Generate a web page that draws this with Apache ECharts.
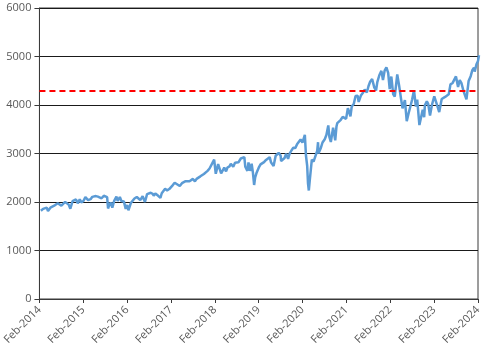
<!DOCTYPE html>
<html>
<head>
<meta charset="utf-8">
<script src="https://cdn.jsdelivr.net/npm/echarts@6/dist/echarts.min.js"></script>
<style>
html, body { margin: 0; padding: 0; background: #fff; }
#main { width: 485px; height: 351px; }
</style>
</head>
<body>
<div id="main"></div>
<script>
// index close, roughly twice a month plus the big swings
var dates = [
  '2014-02-12','2014-03-01','2014-03-14','2014-04-01','2014-04-11','2014-05-01','2014-05-15','2014-06-02','2014-06-13','2014-07-01','2014-07-15','2014-08-01','2014-08-07','2014-08-15','2014-09-02','2014-09-18','2014-10-01','2014-10-15','2014-11-03','2014-11-14','2014-12-01','2014-12-16','2015-01-02','2015-01-15',
  '2015-02-02','2015-02-17','2015-03-02','2015-03-11','2015-04-01','2015-04-15','2015-05-01','2015-05-15','2015-06-01','2015-06-15','2015-07-01','2015-07-08','2015-07-20','2015-08-03','2015-08-17','2015-08-25','2015-09-01','2015-09-17','2015-09-29','2015-10-15','2015-11-03','2015-11-13','2015-12-01','2015-12-14','2016-01-04','2016-01-20',
  '2016-02-01','2016-02-11','2016-03-01','2016-03-15','2016-04-01','2016-04-20','2016-05-02','2016-05-19','2016-06-08','2016-06-27','2016-07-15','2016-08-15','2016-09-01','2016-09-09','2016-09-22','2016-10-14','2016-11-04','2016-11-15','2016-12-13','2016-12-30','2017-01-17',
  '2017-02-01','2017-02-15','2017-03-01','2017-03-15','2017-04-13','2017-05-01','2017-05-17','2017-06-01','2017-06-15','2017-07-03','2017-07-17','2017-08-01','2017-08-18','2017-09-01','2017-09-15','2017-10-02','2017-10-16','2017-11-01','2017-11-15','2017-12-01','2017-12-18','2018-01-02','2018-01-26',
  '2018-02-08','2018-02-26','2018-03-12','2018-03-23','2018-04-02','2018-04-18','2018-05-03','2018-05-15','2018-06-01','2018-06-12','2018-07-02','2018-07-17','2018-08-01','2018-08-15','2018-09-04','2018-09-20','2018-10-03','2018-10-11','2018-10-29','2018-11-07','2018-11-20','2018-12-03','2018-12-14','2018-12-24','2019-01-02','2019-01-15',
  '2019-02-01','2019-02-15','2019-03-01','2019-03-15','2019-04-01','2019-04-15','2019-05-01','2019-05-13','2019-06-03','2019-06-20','2019-07-01','2019-07-15','2019-08-01','2019-08-05','2019-08-15','2019-09-03','2019-09-16','2019-10-02','2019-10-15','2019-11-01','2019-11-15','2019-12-02','2019-12-16','2019-12-31','2020-01-15',
  '2020-01-31','2020-02-19','2020-02-28','2020-03-09','2020-03-16','2020-03-23','2020-04-01','2020-04-17','2020-05-01','2020-05-13','2020-06-01','2020-06-08','2020-06-11','2020-07-01','2020-07-15','2020-08-03','2020-08-17','2020-09-02','2020-09-11','2020-09-23','2020-10-12','2020-10-30','2020-11-09','2020-11-16','2020-12-01','2020-12-15','2020-12-31','2021-01-15',
  '2021-01-29','2021-02-12','2021-03-04','2021-03-15','2021-04-01','2021-04-16','2021-05-03','2021-05-12','2021-06-01','2021-06-15','2021-07-01','2021-07-19','2021-08-02','2021-08-16','2021-09-02','2021-09-20','2021-10-04','2021-10-15','2021-11-01','2021-11-18','2021-12-01','2021-12-15','2021-12-30','2022-01-03','2022-01-14','2022-01-27',
  '2022-02-09','2022-02-23','2022-03-08','2022-03-29','2022-04-14','2022-04-29','2022-05-12','2022-05-20','2022-06-01','2022-06-16','2022-07-01','2022-07-15','2022-08-01','2022-08-16','2022-09-01','2022-09-12','2022-09-30','2022-10-12','2022-10-28','2022-11-09','2022-11-15','2022-12-01','2022-12-13','2022-12-28','2023-01-13',
  '2023-02-02','2023-02-15','2023-03-01','2023-03-13','2023-04-03','2023-04-18','2023-05-01','2023-05-15','2023-06-01','2023-06-15','2023-07-03','2023-07-31','2023-08-18','2023-09-01','2023-09-15','2023-10-02','2023-10-27','2023-11-14','2023-12-01','2023-12-15','2023-12-29','2024-01-04','2024-01-19','2024-02-01','2024-02-09'
];
var closes = [
  1819,1859,1841,1885,1815,1883,1870,1924,1936,1973,1973,1925,1910,1955,2002,2011,1946,1862,2017,2039,2053,1972,2058,1992,
  2020,2100,2117,2040,2059,2106,2108,2122,2111,2084,2077,2046,2128,2098,2102,1867,1914,1990,1884,2023,2109,2023,2102,2021,2012,1859,
  1939,1829,1978,2015,2072,2102,2081,2040,2119,2000,2162,2190,2170,2127,2177,2133,2085,2180,2271,2239,2267,
  2279,2349,2396,2385,2329,2388,2357,2430,2433,2429,2460,2476,2425,2477,2500,2529,2557,2579,2565,2642,2690,2695,2873,
  2581,2780,2784,2588,2582,2708,2630,2711,2735,2787,2726,2809,2813,2818,2897,2930,2925,2728,2641,2814,2642,2790,2600,2351,2510,2610,
  2707,2775,2804,2822,2867,2905,2924,2812,2744,2954,2964,3014,2953,2845,2848,2906,2998,2888,2995,3067,3120,3114,3191,3231,3289,
  3226,3386,2954,2747,2386,2237,2471,2875,2831,2820,3056,3232,3002,3115,3227,3295,3382,3580,3341,3237,3534,3270,3550,3627,3662,3695,3756,3768,
  3714,3934,3768,3969,4020,4185,4192,4063,4202,4246,4320,4258,4387,4479,4537,4358,4300,4471,4613,4704,4513,4709,4778,4797,4663,4327,
  4587,4226,4171,4632,4392,4132,3930,3901,4101,3667,3825,3863,4118,4305,3967,4110,3586,3577,3901,3749,3992,4077,4019,3783,3999,
  4180,4148,3951,3855,4124,4154,4167,4136,4221,4426,4455,4589,4370,4515,4450,4288,4117,4495,4595,4719,4770,4688,4840,4906,5026
];
var refLevel = 4290;
var yTicks = [0, 1000, 2000, 3000, 4000, 5000, 6000];

// months since Feb 2014
function monthPos(s) {
  var p = s.split('-');
  var y = +p[0], m = +p[1], d = +p[2];
  var dim = new Date(y, m, 0).getDate();
  return (y - 2014) * 12 + (m - 2) + (d - 1) / dim;
}

var chart = echarts.init(document.getElementById('main'));
var pts = dates.map(function (d, i) { return [monthPos(d), closes[i]]; });

var axisText = { color: '#595959', fontSize: 11, fontFamily: 'Open Sans' };

var option = {
  backgroundColor: '#ffffff',
  animation: false,
  grid: {
    left: 39, right: 7, top: 8, bottom: 52,
    show: true, borderColor: '#3a3a3a', borderWidth: 1
  },
  xAxis: {
    type: 'value',
    min: 0, max: 120, interval: 12,
    axisLine: { lineStyle: { color: '#3a3a3a' } },
    axisTick: { show: true, length: 4, lineStyle: { color: '#3a3a3a' } },
    splitLine: { show: false },
    axisLabel: Object.assign({
      rotate: 45, margin: 9,
      formatter: function (v) { return 'Feb-' + (2014 + v / 12); }
    }, axisText)
  },
  yAxis: {
    type: 'value',
    min: yTicks[0], max: yTicks[yTicks.length - 1], interval: 1000,
    axisLine: { show: true, lineStyle: { color: '#3a3a3a' } },
    axisTick: { show: true, length: 5, lineStyle: { color: '#3a3a3a' } },
    splitLine: { lineStyle: { color: '#1a1a1a', width: 1 } },
    axisLabel: Object.assign({
      margin: 8,
      formatter: function (v) { return String(v); }
    }, axisText)
  },
  series: [{
    type: 'line',
    data: pts,
    showSymbol: false,
    lineStyle: { color: '#5b9bd5', width: 2.5 },
    markLine: {
      silent: true,
      symbol: 'none',
      label: { show: false },
      lineStyle: { color: '#ff0000', width: 2, type: [6, 4] },
      data: [{ yAxis: refLevel }]
    }
  }]
};
chart.setOption(option);
</script>
</body>
</html>
